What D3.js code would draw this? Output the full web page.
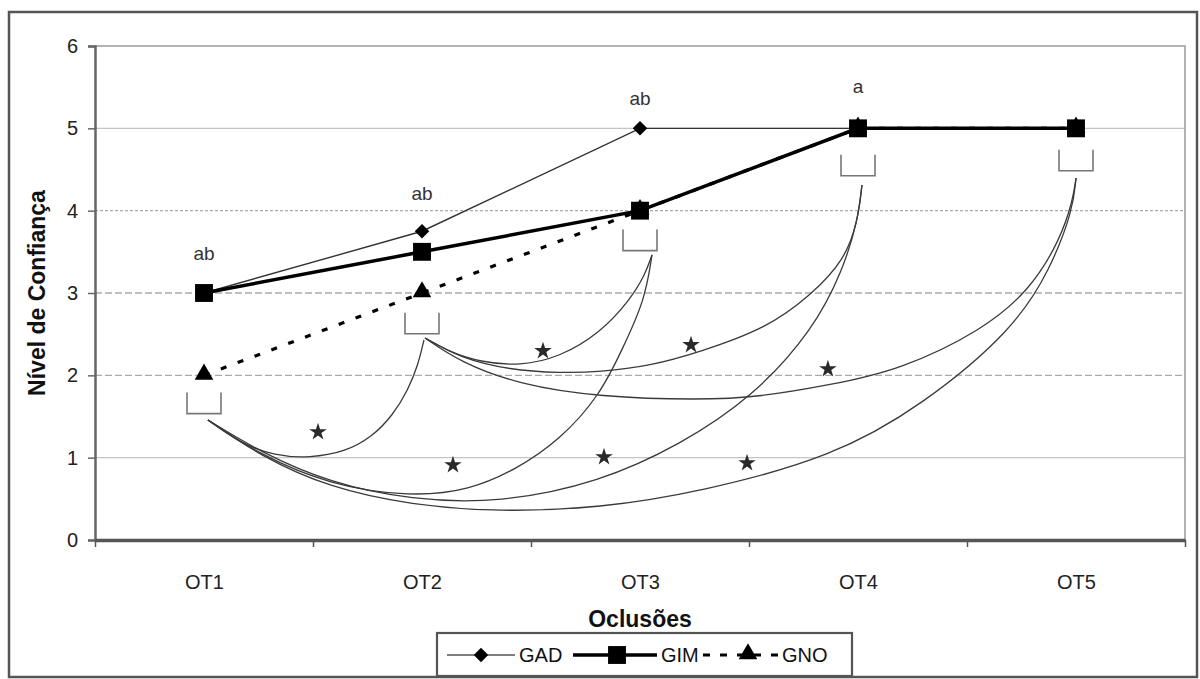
<!DOCTYPE html>
<html>
<head>
<meta charset="utf-8">
<script src="https://cdn.jsdelivr.net/npm/d3@7"></script>
<style>
  html, body { margin: 0; padding: 0; background: #fff; }
  svg { display: block; font-family: "Liberation Sans", Arial, sans-serif; }
</style>
</head>
<body>
<svg id="chart" width="1200" height="679"></svg>
<script>
// ---------------- data ----------------
const categories = ["OT1", "OT2", "OT3", "OT4", "OT5"];
const yTicks = [0, 1, 2, 3, 4, 5, 6];
const gadValues = [3, 3.75, 5, 5, 5];
const gimValues = [3, 3.5, 4, 5, 5];
const gnoValues = [2, 3, 4, 5, 5];
const seriesNames = ["GAD", "GIM", "GNO"];

// significance letters above the points: [category index, value position, text]
const letterLabels = [
  [0, 3.46, "ab"],
  [1, 4.19, "ab"],
  [2, 5.34, "ab"],
  [3, 5.49, "a"]
];

// open brackets under each occlusion: [category index, top value]
const brackets = [
  [0, 1.79],
  [1, 2.76],
  [2, 3.77],
  [3, 4.68],
  [4, 4.74]
];

// comparison arcs between brackets (category-index, value)
const arcOT1OT2 = [[0.018,1.458],[0.165,1.178],[0.326,1.020],[0.486,0.996],[0.647,1.069],[0.771,1.251],[0.867,1.518],[0.936,1.822],[0.982,2.126],[1.009,2.429]];
const arcOT1OT3 = [[0.018,1.458],[0.257,1.032],[0.578,0.668],[0.950,0.522],[1.220,0.607],[1.427,0.850],[1.633,1.215],[1.817,1.761],[1.917,2.308],[2.023,2.915],[2.055,3.462]];
const arcOT1OT4 = [[0.018,1.458],[0.257,1.069],[0.578,0.692],[0.950,0.486],[1.358,0.449],[1.817,0.704],[2.183,1.154],[2.518,1.737],[2.794,2.551],[2.931,3.279],[3.000,3.887],[3.018,4.312]];
const arcOT1OT5 = [[0.018,1.458],[0.257,1.020],[0.578,0.632],[0.950,0.425],[1.358,0.340],[1.817,0.389],[2.275,0.583],[2.885,1.008],[3.298,1.640],[3.711,2.551],[3.881,3.279],[3.986,4.008],[4.000,4.397]];
const arcOT2OT3 = [[1.014,2.454],[1.128,2.283],[1.266,2.162],[1.450,2.113],[1.633,2.223],[1.817,2.514],[1.954,2.915],[2.023,3.219],[2.055,3.462]];
const arcOT2OT4 = [[1.014,2.454],[1.174,2.211],[1.404,2.065],[1.633,2.028],[1.817,2.041],[2.046,2.113],[2.275,2.283],[2.583,2.575],[2.780,2.964],[2.940,3.401],[3.000,3.887],[3.018,4.312]];
const arcOT2OT5 = [[1.014,2.454],[1.174,2.162],[1.450,1.883],[1.817,1.737],[2.275,1.700],[2.550,1.737],[2.872,1.883],[3.193,2.065],[3.573,2.551],[3.789,3.037],[3.927,3.644],[3.986,4.130],[4.000,4.397]];

// asterisks marking significant differences: [category index, value]
const asterisks = [
  [0.523, 1.312], [1.142, 0.911], [1.835, 1.008], [2.491, 0.935],
  [1.555, 2.296], [2.234, 2.369], [2.862, 2.077]
];

// ---------------- layout ----------------
const svg = d3.select("#chart");
const plot = { left: 95, right: 1185, top: 46, bottom: 540 };

const x = d3.scaleLinear().domain([-0.5, categories.length - 0.5]).range([plot.left, plot.right]);
const y = d3.scaleLinear().domain([0, 6]).range([plot.bottom, plot.top]);

svg.append("rect").attr("width", 1200).attr("height", 679).attr("fill", "#fff");

// outer frame
svg.append("rect")
  .attr("x", 9).attr("y", 12).attr("width", 1188).attr("height", 665)
  .attr("fill", "none").attr("stroke", "#555").attr("stroke-width", 2.5);

// gridlines
const gridStyle = {1: null, 2: "7,3", 3: "7,3", 4: "3,2", 5: null};
svg.append("g").selectAll("line")
  .data(yTicks.filter(d => d > 0 && d < 6))
  .join("line")
  .attr("x1", plot.left).attr("x2", plot.right)
  .attr("y1", d => y(d)).attr("y2", d => y(d))
  .attr("stroke", d => gridStyle[d] ? "#aaa" : "#c4c4c4")
  .attr("stroke-width", 1.3)
  .attr("stroke-dasharray", d => gridStyle[d]);

// top & right border of plot area
svg.append("path")
  .attr("d", `M${plot.left},${y(6)}H${plot.right}V${plot.bottom}`)
  .attr("fill", "none").attr("stroke", "#999").attr("stroke-width", 1.5);

// y axis
const yAxis = svg.append("g").attr("transform", `translate(${plot.left},0)`)
  .call(d3.axisLeft(y).tickValues(yTicks).tickFormat(d3.format("d")).tickSize(7).tickPadding(10));
yAxis.select(".domain").attr("stroke", "#666").attr("stroke-width", 2.5);
yAxis.selectAll(".tick line").attr("stroke", "#666").attr("stroke-width", 1.5);
yAxis.selectAll("text").attr("font-size", 20).attr("fill", "#222")
  .attr("font-family", "Liberation Sans, Arial, sans-serif");

// x axis: ticks between categories
const xTickAxis = svg.append("g").attr("transform", `translate(0,${plot.bottom})`)
  .call(d3.axisBottom(x).tickValues(d3.range(-0.5, categories.length, 1)).tickFormat("").tickSize(7).tickSizeOuter(0));
xTickAxis.select(".domain").attr("stroke", "#555").attr("stroke-width", 3.5);
xTickAxis.selectAll(".tick line").attr("stroke", "#555").attr("stroke-width", 1.5);

// x axis labels
const xLabelAxis = svg.append("g").attr("transform", `translate(0,${plot.bottom})`)
  .call(d3.axisBottom(x).tickValues(d3.range(categories.length)).tickFormat(i => categories[i]).tickSize(0).tickPadding(35));
xLabelAxis.select(".domain").remove();
xLabelAxis.selectAll("text").attr("font-size", 20).attr("fill", "#222")
  .attr("font-family", "Liberation Sans, Arial, sans-serif");

// axis titles
svg.append("text")
  .attr("transform", `translate(45,${(plot.top + plot.bottom) / 2}) rotate(-90)`)
  .attr("text-anchor", "middle")
  .attr("font-size", 23).attr("font-weight", "bold").attr("fill", "#111")
  .text("Nível de Confiança");

svg.append("text")
  .attr("x", (plot.left + plot.right) / 2).attr("y", 627)
  .attr("text-anchor", "middle")
  .attr("font-size", 23).attr("font-weight", "bold").attr("fill", "#111")
  .text("Oclusões");

// ---------------- annotations: brackets, arcs, asterisks ----------------
const bw = 34, bh = 21;
svg.append("g").selectAll("path")
  .data(brackets)
  .join("path")
  .attr("d", d => `M${x(d[0]) - bw / 2},${y(d[1])}V${y(d[1]) + bh}H${x(d[0]) + bw / 2}V${y(d[1])}`)
  .attr("fill", "none").attr("stroke", "#777").attr("stroke-width", 1.6);

const arcLine = d3.line().x(d => x(d[0])).y(d => y(d[1])).curve(d3.curveBasis);
svg.append("g").selectAll("path")
  .data([arcOT1OT2, arcOT1OT3, arcOT1OT4, arcOT1OT5, arcOT2OT3, arcOT2OT4, arcOT2OT5])
  .join("path")
  .attr("d", arcLine)
  .attr("fill", "none").attr("stroke", "#3a3a3a").attr("stroke-width", 1.3);

svg.append("g").selectAll("path")
  .data(asterisks)
  .join("path")
  .attr("transform", d => `translate(${x(d[0])},${y(d[1])})`)
  .attr("d", d3.symbol(d3.symbolStar).size(95))
  .attr("fill", "#2a2a2a");

// ---------------- series ----------------
const line = d3.line().x((d, i) => x(i)).y(d => y(d));

svg.append("path").datum(gnoValues).attr("d", line)
  .attr("fill", "none").attr("stroke", "#000").attr("stroke-width", 3.2).attr("stroke-dasharray", "6,12");
svg.append("path").datum(gadValues).attr("d", line)
  .attr("fill", "none").attr("stroke", "#333").attr("stroke-width", 1.4);
svg.append("path").datum(gimValues).attr("d", line)
  .attr("fill", "none").attr("stroke", "#000").attr("stroke-width", 3.5);

const triangle = d3.symbol(d3.symbolTriangle).size(150);
const diamond = d3.symbol(d3.symbolSquare).size(105);
const square = d3.symbol(d3.symbolSquare).size(320);

svg.append("g").selectAll("path").data(gnoValues).join("path")
  .attr("transform", (d, i) => `translate(${x(i)},${y(d) - 1})`)
  .attr("d", triangle).attr("fill", "#000");
svg.append("g").selectAll("path").data(gadValues).join("path")
  .attr("transform", (d, i) => `translate(${x(i)},${y(d)}) rotate(45)`)
  .attr("d", diamond).attr("fill", "#000");
svg.append("g").selectAll("path").data(gimValues).join("path")
  .attr("transform", (d, i) => `translate(${x(i)},${y(d)})`)
  .attr("d", square).attr("fill", "#000");

// significance letters
svg.append("g").selectAll("text").data(letterLabels).join("text")
  .attr("x", d => x(d[0])).attr("y", d => y(d[1]))
  .attr("text-anchor", "middle").attr("dominant-baseline", "middle")
  .attr("font-size", 19).attr("fill", "#333")
  .text(d => d[2]);

// ---------------- legend ----------------
const legend = svg.append("g").attr("transform", "translate(437,633)");
legend.append("rect").attr("width", 415).attr("height", 43)
  .attr("fill", "#fff").attr("stroke", "#555").attr("stroke-width", 2.2);
const ly = 22;
const legendItems = [
  { name: seriesNames[0], x0: 10, x1: 78, mx: 44, sym: diamond, rot: 45, w: 1.6, dash: null, col: "#555" },
  { name: seriesNames[1], x0: 136, x1: 220, mx: 180, sym: square, rot: 0, w: 3.5, dash: null, col: "#000" },
  { name: seriesNames[2], x0: 266, x1: 341, mx: 311, sym: triangle, rot: 0, w: 3.2, dash: "7,10", col: "#000" }
];
legendItems.forEach(it => {
  legend.append("line").attr("x1", it.x0).attr("x2", it.x1).attr("y1", ly).attr("y2", ly)
    .attr("stroke", it.col).attr("stroke-width", it.w).attr("stroke-dasharray", it.dash);
  legend.append("path").attr("d", it.sym)
    .attr("transform", `translate(${it.mx},${ly - (it.sym === triangle ? 1 : 0)}) rotate(${it.rot})`)
    .attr("fill", "#000");
  legend.append("text").attr("x", it.x1 + 4).attr("y", ly).attr("dominant-baseline", "central")
    .attr("font-size", 20).attr("fill", "#111").text(it.name);
});
</script>
</body>
</html>
